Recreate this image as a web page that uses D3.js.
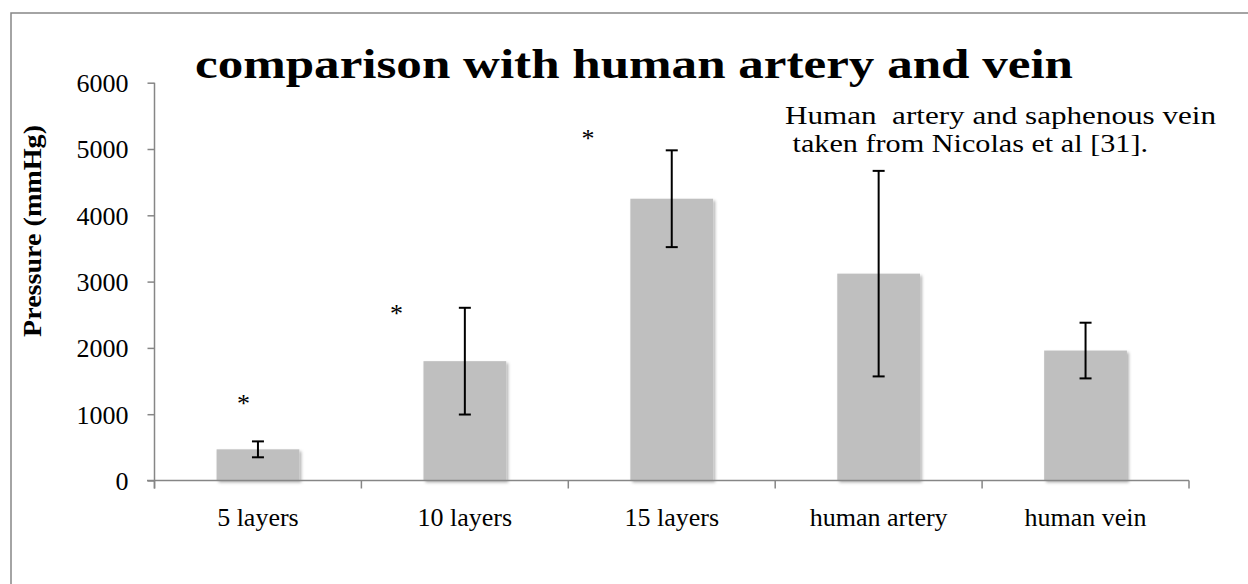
<!DOCTYPE html>
<html>
<head>
<meta charset="utf-8">
<script src="https://cdn.jsdelivr.net/npm/d3@7/dist/d3.min.js"></script>
<style>
  html, body { margin: 0; padding: 0; background: #fff; }
  svg { display: block; }
  text { font-family: "Liberation Serif", "DejaVu Serif", serif; fill: #000; }
</style>
</head>
<body>
<svg id="chart" width="1248" height="584"></svg>
<script>
// ---- data ----
const categories = ["5 layers", "10 layers", "15 layers", "human artery", "human vein"];
const pressureValues = [470, 1800, 4250, 3120, 1960];
const pressureErrors = [120, 805, 730, 1550, 420];
const yTickValues = [0, 1000, 2000, 3000, 4000, 5000, 6000];
// significance markers: category, height (mmHg), horizontal position within band (fraction)
const starCategories = ["5 layers", "10 layers", "15 layers"];
const starValues = [1260, 2620, 5260];
const starBandPos = [0.43, 0.17, 0.095];
const titleText = "comparison with human artery and vein";
const yLabelText = "Pressure (mmHg)";
const noteLines = ["Human  artery and saphenous vein", " taken from Nicolas et al [31]."];

// ---- layout ----
const axisColor = "#868686";
const svg = d3.select("#chart");

// outer frame (extends past right/bottom edge like the reference)
svg.append("rect")
  .attr("x", 11).attr("y", 13).attr("width", 1260).attr("height", 600)
  .attr("fill", "none").attr("stroke", axisColor).attr("stroke-width", 1.5);

const defs = svg.append("defs");
const f = defs.append("filter").attr("id", "shadow")
  .attr("x", "-10%").attr("y", "-10%").attr("width", "130%").attr("height", "130%");
f.append("feDropShadow").attr("dx", 2).attr("dy", 2).attr("stdDeviation", 1.6)
  .attr("flood-color", "#000").attr("flood-opacity", 0.3);

const x = d3.scaleBand().domain(categories).range([154.5, 1189])
  .paddingInner(0.6).paddingOuter(0.3);
const y = d3.scaleLinear().domain([0, 6000]).range([480.5, 82.7]);

// bars
svg.append("g").selectAll("rect").data(categories).join("rect")
  .attr("x", d => x(d))
  .attr("y", (d, i) => y(pressureValues[i]))
  .attr("width", x.bandwidth())
  .attr("height", (d, i) => y(0) - y(pressureValues[i]))
  .attr("fill", "#bfbfbf")
  .attr("filter", "url(#shadow)");

// y axis
const yAxis = svg.append("g").attr("transform", "translate(154.5,0)")
  .call(d3.axisLeft(y).tickValues(yTickValues).tickFormat(d3.format("d"))
    .tickSize(7).tickSizeOuter(0).tickPadding(19));
yAxis.select(".domain").attr("stroke", axisColor).attr("stroke-width", 1.5)
  .attr("d", `M0,${y(6000)}V${y(0) + 8}`);
yAxis.selectAll(".tick line").attr("stroke", axisColor).attr("stroke-width", 1.5);
yAxis.selectAll(".tick text").attr("font-size", 26)
  .attr("font-family", "Liberation Serif, serif").attr("fill", "#000").attr("dy", "0.34em");

// x axis
const xr = x.range();
svg.append("line").attr("x1", 147).attr("x2", xr[1])
  .attr("y1", y(0)).attr("y2", y(0))
  .attr("stroke", axisColor).attr("stroke-width", 1.5);
const boundaries = d3.range(categories.length + 1).map(i => xr[0] + i * x.step());
svg.append("g").selectAll("line").data(boundaries).join("line")
  .attr("x1", d => d).attr("x2", d => d)
  .attr("y1", y(0)).attr("y2", y(0) + 8)
  .attr("stroke", axisColor).attr("stroke-width", 1.5);
svg.append("g").selectAll("text").data(categories).join("text")
  .attr("x", d => x(d) + x.bandwidth() / 2)
  .attr("y", y(0) + 45)
  .attr("text-anchor", "middle")
  .attr("font-size", 26)
  .text(d => d);

// error bars
const eb = svg.append("g").attr("stroke", "#000").attr("stroke-width", 2);
categories.forEach((c, i) => {
  const cx = x(c) + x.bandwidth() / 2;
  const top = y(pressureValues[i] + pressureErrors[i]);
  const bot = y(pressureValues[i] - pressureErrors[i]);
  eb.append("line").attr("x1", cx).attr("x2", cx).attr("y1", top).attr("y2", bot);
  eb.append("line").attr("x1", cx - 6).attr("x2", cx + 6).attr("y1", top).attr("y2", top);
  eb.append("line").attr("x1", cx - 6).attr("x2", cx + 6).attr("y1", bot).attr("y2", bot);
});

// significance stars
svg.append("g").selectAll("text").data(starCategories).join("text")
  .attr("x", (d, i) => xr[0] + categories.indexOf(d) * x.step() + starBandPos[i] * x.step())
  .attr("y", (d, i) => y(starValues[i]) + 15)
  .attr("text-anchor", "middle")
  .attr("font-size", 26)
  .text("*");

// title
svg.append("text")
  .attr("x", 195).attr("y", 78)
  .attr("font-size", 43).attr("font-weight", "bold")
  .attr("textLength", 878).attr("lengthAdjust", "spacingAndGlyphs")
  .text(titleText);

// y label
svg.append("text")
  .attr("transform", "translate(41,231) rotate(-90)")
  .attr("text-anchor", "middle")
  .attr("font-size", 26).attr("font-weight", "bold")
  .attr("textLength", 212).attr("lengthAdjust", "spacingAndGlyphs")
  .text(yLabelText);

// note
const noteX = [785, 785];
const noteW = [431, 363];
const noteY = [124, 152];
noteLines.forEach((t, i) => {
  svg.append("text")
    .attr("x", noteX[i]).attr("y", noteY[i])
    .attr("font-size", 25)
    .attr("textLength", noteW[i]).attr("lengthAdjust", "spacingAndGlyphs")
    .attr("xml:space", "preserve")
    .style("white-space", "pre")
    .text(t);
});
</script>
</body>
</html>
